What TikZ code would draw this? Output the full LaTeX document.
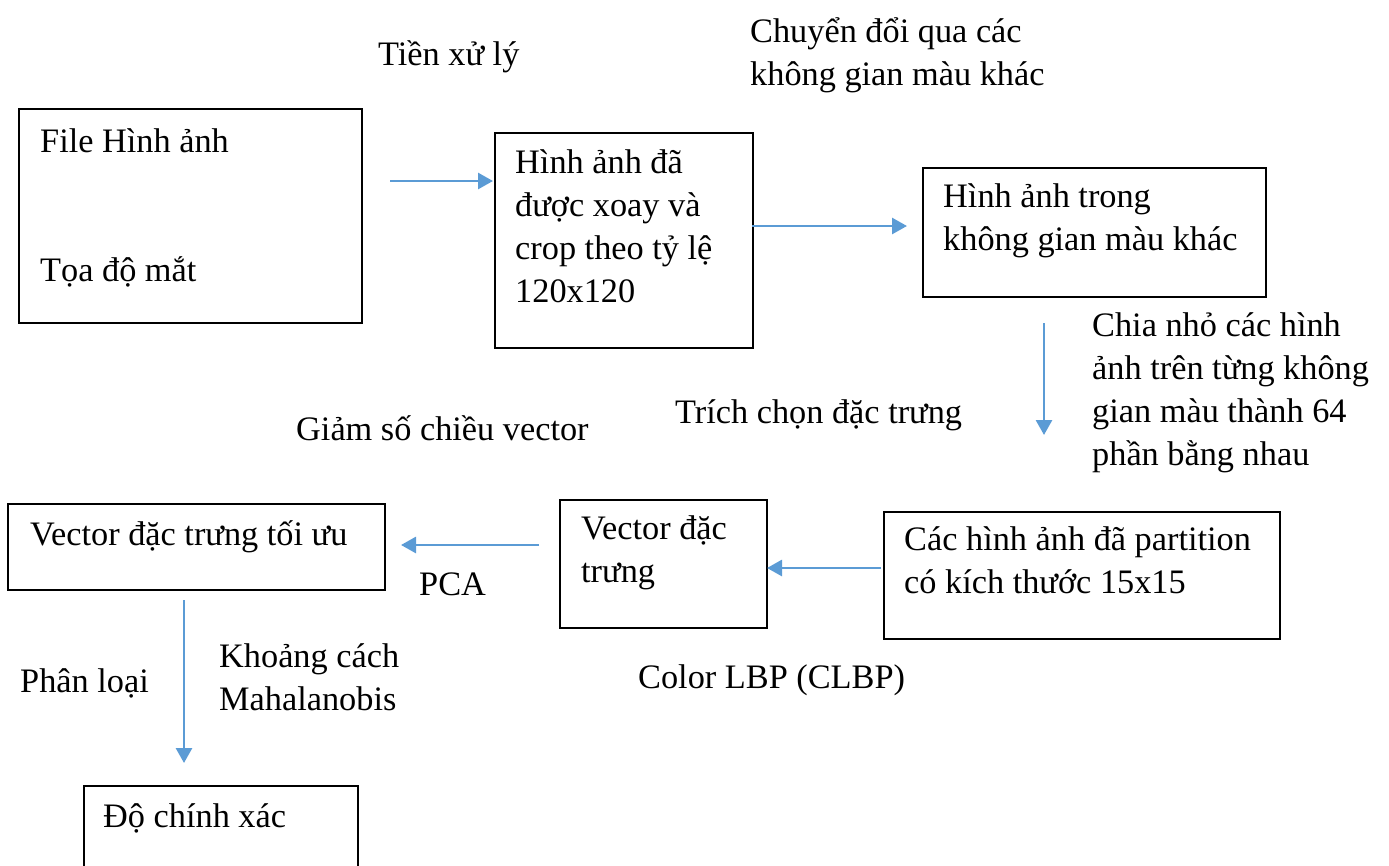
\documentclass[tikz,border=0pt]{standalone}
\usepackage{fontspec}
\setmainfont{Liberation Serif}
\usetikzlibrary{arrows.meta}
\definecolor{arrowblue}{HTML}{5B9BD5}
\tikzset{
	box/.style={draw, line width=1.6pt, anchor=north west, inner sep=0pt},
	flow/.style={arrowblue, line width=2.8pt, -{Triangle[length=15pt,width=16pt]}},
	txt/.style={anchor=base west, inner sep=0pt, align=left, font=\fontsize{34.3}{43}\selectfont},
}

\begin{document}
\begin{tikzpicture}[x=1pt,y=-1pt]
				\clip (0,0) rectangle (1389,865);
				\node[box, minimum width=343pt, minimum height=214pt] (file) at (18,108) {};
				\node[box, minimum width=258pt, minimum height=215pt] (crop) at (494,132) {};
				\node[box, minimum width=343pt, minimum height=129pt] (space) at (922,167) {};
				\node[box, minimum width=396pt, minimum height=127pt] (part) at (883,511) {};
				\node[box, minimum width=207pt, minimum height=128pt] (vec) at (559,499) {};
				\node[box, minimum width=377pt, minimum height=86pt] (opt) at (7,503) {};
				\node[box, minimum width=274pt, minimum height=120pt] (acc) at (83,785) {};
				\node[txt] (filet) at (40,152) {File Hình ảnh};
				\node[txt] (eyet) at (40,281) {Tọa độ mắt};
				\node[txt] (cropt) at (515,302) {Hình ảnh đã\\được xoay và\\crop theo tỷ lệ\\120x120};
				\node[txt] (spacet) at (943,250) {Hình ảnh trong\\không gian màu khác};
				\node[txt] (partt) at (904,593) {Các hình ảnh đã partition\\có kích thước 15x15};
				\node[txt] (vect) at (581,582) {Vector đặc\\trưng};
				\node[txt] (optt) at (30,545) {Vector đặc trưng tối ưu};
				\node[txt] (acct) at (103,827) {Độ chính xác};
				\node[txt] (pre) at (378,65) {Tiền xử lý};
				\node[txt] (conv) at (750,85) {Chuyển đổi qua các\\không gian màu khác};
				\node[txt] (split) at (1092,465) {Chia nhỏ các hình\\ảnh trên từng không\\gian màu thành 64\\phần bằng nhau};
				\node[txt] (feat) at (675,423) {Trích chọn đặc trưng};
				\node[txt] (red) at (296,440) {Giảm số chiều vector};
				\node[txt] (pca) at (419,595) {PCA};
				\node[txt] (clbp) at (638,688) {Color LBP (CLBP)};
				\node[txt] (cls) at (20,692) {Phân loại};
				\node[txt] (maha) at (219,710) {Khoảng cách\\Mahalanobis};
				\coordinate (a1) at (390,181);
				\coordinate (a1e) at (493,181);
				\coordinate (a2) at (752,226);
				\coordinate (a2e) at (907,226);
				\coordinate (a3) at (1044,323);
				\coordinate (a3e) at (1044,435);
				\coordinate (a4) at (881,568);
				\coordinate (a4e) at (767,568);
				\coordinate (a5) at (539,545);
				\coordinate (a5e) at (401,545);
				\coordinate (a6) at (184,600);
				\coordinate (a6e) at (184,763);
				\draw[flow] (a1) -- (a1e);
				\draw[flow] (a2) -- (a2e);
				\draw[flow] (a3) -- (a3e);
				\draw[flow] (a4) -- (a4e);
				\draw[flow] (a5) -- (a5e);
				\draw[flow] (a6) -- (a6e);
\end{tikzpicture}
\end{document}
